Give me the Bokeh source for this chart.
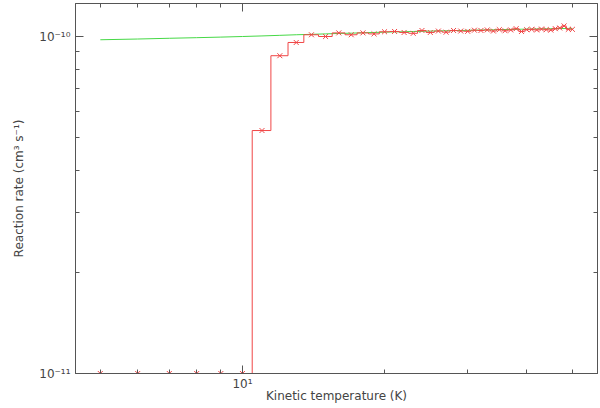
from bokeh.plotting import figure
from bokeh.models import FixedTicker, LogAxis, Range1d
from bokeh.embed import file_html
from bokeh.resources import INLINE

# Kinetic temperature (K)
temperature = list(range(5, 51))

# Reaction rate data (units of 1e-10 cm^3 s^-1)
rate_data = [0.100, 0.100, 0.100, 0.100, 0.100, 0.100,
             0.526, 0.877, 0.960, 1.012, 1.000, 1.025, 1.012, 1.025, 1.018,
             1.033, 1.035, 1.028, 1.022, 1.042, 1.028, 1.038, 1.030, 1.042,
             1.038, 1.036, 1.044, 1.042, 1.046, 1.038, 1.048, 1.040, 1.046,
             1.055, 1.035, 1.048, 1.050, 1.046, 1.052, 1.048, 1.045, 1.055,
             1.060, 1.075, 1.050, 1.050]

# Fitted rate (units of 1e-10 cm^3 s^-1)
rate_fit = [0.978, 0.983, 0.988, 0.992, 0.996, 1.000, 1.004, 1.008, 1.012,
            1.015, 1.018, 1.021, 1.023, 1.026, 1.028, 1.030, 1.032, 1.033,
            1.035, 1.036, 1.038, 1.039, 1.040, 1.041, 1.042, 1.043, 1.044,
            1.045, 1.046, 1.047, 1.048, 1.049, 1.050, 1.050, 1.051, 1.052,
            1.052, 1.053, 1.054, 1.054, 1.055, 1.055, 1.056, 1.056, 1.057,
            1.057]

x_major = [10]
x_minor = [5, 6, 7, 8, 9, 20, 30, 40, 50]
y_major = [1e-11, 1e-10]
y_minor = [2e-11, 3e-11, 4e-11, 5e-11, 6e-11, 7e-11, 8e-11, 9e-11]
x_labels = {10: "10¹"}
y_labels = {1e-11: "10⁻¹¹", 1e-10: "10⁻¹⁰"}

scale = 1e-10
data_y = [v * scale for v in rate_data]
fit_y = [v * scale for v in rate_fit]

RED = "#f04646"
GREEN = "#46d846"
AX = "#555555"
TXT = "#444444"
FONT = "DejaVu Sans"

p = figure(width=600, height=408, x_axis_type="log", y_axis_type="log",
           x_range=Range1d(4.43, 56.5), y_range=Range1d(1e-11, 1.253e-10),
           output_backend="svg", toolbar_location=None,
           min_border_left=75, min_border_right=3, min_border_top=3,
           min_border_bottom=35)
p.grid.visible = False
p.outline_line_color = AX
p.background_fill_color = "white"
p.border_fill_color = "white"

top = LogAxis()
right = LogAxis()
p.add_layout(top, "above")
p.add_layout(right, "right")

for ax in p.xaxis:
    ax.ticker = FixedTicker(ticks=x_major, minor_ticks=x_minor)
for ax in p.yaxis:
    ax.ticker = FixedTicker(ticks=y_major, minor_ticks=y_minor)

for ax in p.xaxis + p.yaxis:
    ax.axis_line_color = AX
    ax.major_tick_line_color = AX
    ax.minor_tick_line_color = AX
    ax.major_tick_in = 8
    ax.major_tick_out = 0
    ax.minor_tick_in = 4
    ax.minor_tick_out = 0
    ax.major_label_text_font = FONT
    ax.major_label_text_font_size = "12px"
    ax.major_label_text_color = TXT
    ax.axis_label_text_font = FONT
    ax.axis_label_text_font_size = "12px"
    ax.axis_label_text_font_style = "normal"
    ax.axis_label_text_color = TXT

for ax in (top, right):
    ax.major_label_text_font_size = "1px"
    ax.major_label_text_alpha = 0
    ax.major_label_standoff = 0

bottom = p.below[0]
left = p.left[0]
bottom.major_label_overrides = x_labels
left.major_label_overrides = y_labels
bottom.axis_label = "Kinetic temperature (K)"
left.axis_label = "Reaction rate (cm³ s⁻¹)"
bottom.major_label_standoff = 3
bottom.axis_label_standoff = -5
left.major_label_standoff = 5
left.axis_label_standoff = 10

p.line(temperature, fit_y, line_color=GREEN, line_width=1)
p.step(temperature, data_y, mode="center", line_color=RED, line_width=1)
p.scatter(temperature, data_y, marker="x", size=7, line_color=RED, line_width=1)

open("out.html", "w").write(file_html(p, INLINE))
